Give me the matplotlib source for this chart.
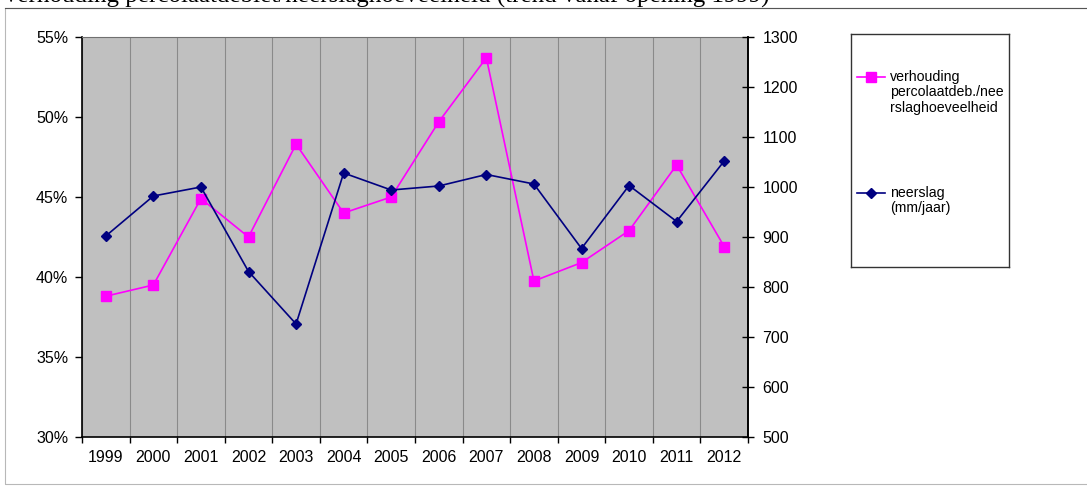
import matplotlib
matplotlib.use("Agg")
import matplotlib.pyplot as plt
from matplotlib.lines import Line2D
from matplotlib.patches import Rectangle
from matplotlib.ticker import FuncFormatter, FixedLocator

years = ["1999", "2000", "2001", "2002", "2003", "2004", "2005",
         "2006", "2007", "2008", "2009", "2010", "2011", "2012"]
ratio_pct = [38.8, 39.5, 44.9, 42.5, 48.3, 44.0, 45.0,
             49.7, 53.7, 39.75, 40.9, 42.9, 47.0, 41.9]
neerslag_mm = [902, 982, 1000, 831, 726, 1028, 994,
               1002, 1025, 1006, 877, 1003, 931, 1052]
left_ticks = [30, 35, 40, 45, 50, 55]
right_ticks = [500, 600, 700, 800, 900, 1000, 1100, 1200, 1300]
label_ratio = "verhouding\npercolaatdeb./nee\nrslaghoeveelheid"
label_rain = "neerslag\n(mm/jaar)"
title = "Verhouding percolaatdebiet/neerslaghoeveelheid (trend vanaf opening 1999)"

W, H = 1087, 487
fig = plt.figure(figsize=(W / 100, H / 100), dpi=100)
fig.patch.set_facecolor("white")
plt.rcParams["font.family"] = ["Liberation Sans", "DejaVu Sans"]

def px(x0, y0, x1, y1):
    return [x0 / W, 1 - y1 / H, (x1 - x0) / W, (y1 - y0) / H]

# outer frame
fig.add_artist(Rectangle((5 / W, 1 - 484 / H), 1090 / W, 476 / H,
                         transform=fig.transFigure, fill=False,
                         edgecolor="#b8b8b8", lw=0.8))
fig.add_artist(Line2D([5 / W, 1], [1 - 8 / H, 1 - 8 / H],
                      transform=fig.transFigure, color="#555555", lw=0.8))
fig.text(2 / W, 1 - 3 / H, title, fontsize=18, family="Liberation Serif",
         va="baseline", ha="left", color="black")

ax = fig.add_axes(px(82, 37, 748, 437))
ax.set_facecolor("#c0c0c0")
x = list(range(len(years)))
ax.set_xlim(-0.5, len(years) - 0.5)
ax.set_ylim(30, 55)

ax.xaxis.set_major_locator(FixedLocator(x))
ax.set_xticks(x)
ax.set_xticklabels(years)
ax.set_xticks([i - 0.5 for i in range(len(years) + 1)], minor=True)
ax.tick_params(axis="x", which="major", length=0, pad=9, labelsize=11.5)
ax.tick_params(axis="x", which="minor", length=4, width=1.0, direction="out")
ax.grid(axis="x", which="minor", color="#8a8a8a", lw=0.8)
ax.set_axisbelow(True)

ax.set_yticks(left_ticks)
ax.yaxis.set_major_formatter(FuncFormatter(lambda v, p: f"{v:.0f}%"))
ax.tick_params(axis="y", length=5, width=1.0, direction="out", pad=5, labelsize=11.5)

for s in ["left", "bottom", "right"]:
    ax.spines[s].set_color("black")
    ax.spines[s].set_linewidth(1.2)
ax.spines["top"].set_color("#707070")
ax.spines["top"].set_linewidth(0.8)

pink = "#ff00ff"
navy = "#000080"
ax.plot(x, ratio_pct, color=pink, lw=1.2, marker="s", markersize=6.5,
        markeredgecolor=pink, markerfacecolor=pink, zorder=3)

ax2 = ax.twinx()
ax2.set_ylim(500, 1300)
ax2.set_yticks(right_ticks)
ax2.tick_params(axis="y", length=9, width=1.0, direction="inout", pad=6, labelsize=11.5)
for s in ["left", "bottom", "top"]:
    ax2.spines[s].set_visible(False)
ax2.spines["right"].set_color("black")
ax2.spines["right"].set_linewidth(1.2)
ax2.plot(x, neerslag_mm, color=navy, lw=1.2, marker="D", markersize=5,
         markeredgecolor=navy, markerfacecolor=navy, zorder=4)

# legend box
lax = fig.add_axes(px(851, 34, 1009, 267))
lax.set_xlim(851, 1009)
lax.set_ylim(267, 34)
lax.set_xticks([])
lax.set_yticks([])
lax.set_facecolor("white")
for s in lax.spines.values():
    s.set_color("#333333")
    s.set_linewidth(1.0)
lax.plot([857, 885], [77, 77], color=pink, lw=1.2)
lax.plot([871], [77], marker="s", color=pink, markersize=6.5)
lax.text(890, 70, label_ratio, va="top", ha="left", fontsize=10.2,
         linespacing=1.12)
lax.plot([857, 885], [193, 193], color=navy, lw=1.2)
lax.plot([871], [193], marker="D", color=navy, markersize=5)
lax.text(890, 186, label_rain, va="top", ha="left", fontsize=10.2,
         linespacing=1.12)

fig.savefig("out.png", dpi=100)
